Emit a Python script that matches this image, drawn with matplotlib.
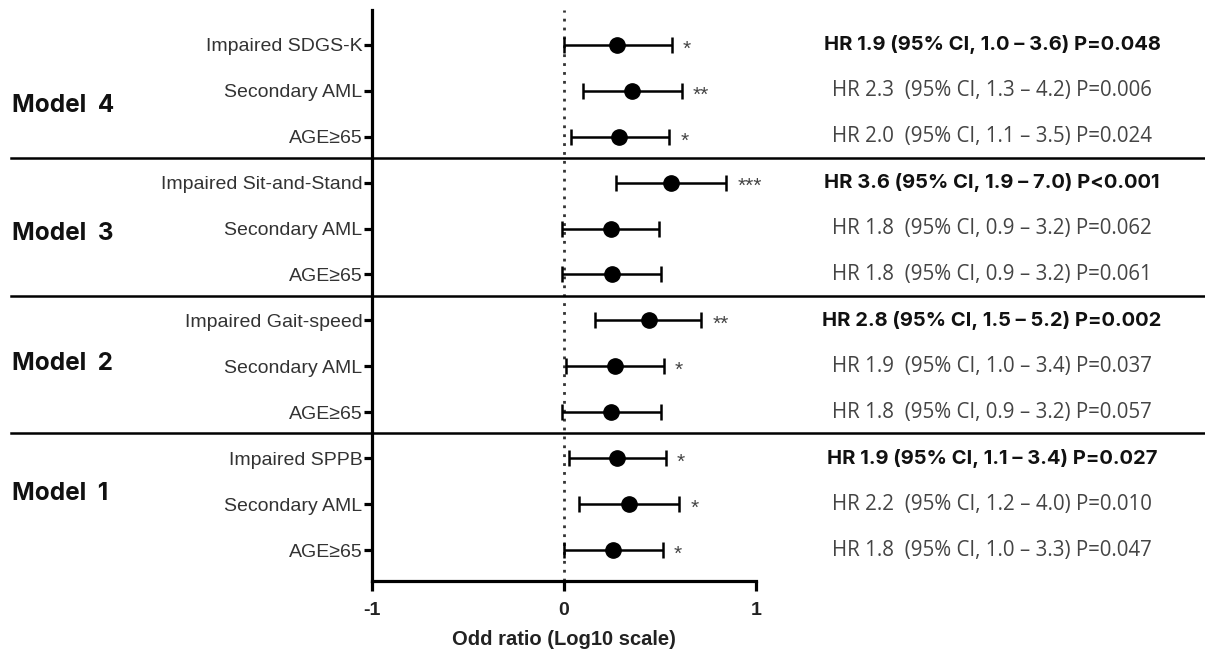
import numpy as np
import matplotlib
matplotlib.use("Agg")
import matplotlib.pyplot as plt
from matplotlib.transforms import blended_transform_factory, IdentityTransform

# rows top -> bottom
labels = ["Impaired SDGS-K", "Secondary AML", "AGE≥65",
          "Impaired Sit-and-Stand", "Secondary AML", "AGE≥65",
          "Impaired Gait-speed", "Secondary AML", "AGE≥65",
          "Impaired SPPB", "Secondary AML", "AGE≥65"]
# log10(HR) estimate and CI bounds
est = [0.277, 0.356, 0.286, 0.555, 0.243, 0.248, 0.444, 0.266, 0.243, 0.278, 0.339, 0.255]
lo = [0.000, 0.099, 0.035, 0.271, -0.012, -0.012, 0.161, 0.009, -0.009, 0.026, 0.078, 0.000]
hi = [0.560, 0.614, 0.548, 0.844, 0.495, 0.505, 0.715, 0.520, 0.503, 0.530, 0.600, 0.514]
stars = ["*", "**", "*", "***", "", "", "**", "*", "", "*", "*", "*"]
hr_text = ["HR 1.9 (95% CI, 1.0 – 3.6) P=0.048",
           "HR 2.3  (95% CI, 1.3 – 4.2) P=0.006",
           "HR 2.0  (95% CI, 1.1 – 3.5) P=0.024",
           "HR 3.6 (95% CI, 1.9 – 7.0) P<0.001",
           "HR 1.8  (95% CI, 0.9 – 3.2) P=0.062",
           "HR 1.8  (95% CI, 0.9 – 3.2) P=0.061",
           "HR 2.8 (95% CI, 1.5 – 5.2) P=0.002",
           "HR 1.9  (95% CI, 1.0 – 3.4) P=0.037",
           "HR 1.8  (95% CI, 0.9 – 3.2) P=0.057",
           "HR 1.9 (95% CI, 1.1 – 3.4) P=0.027",
           "HR 2.2  (95% CI, 1.2 – 4.0) P=0.010",
           "HR 1.8  (95% CI, 1.0 – 3.3) P=0.047"]
bold_rows = [0, 3, 6, 9]
models = ["Model 4", "Model 3", "Model 2", "Model 1"]
model_y = [1.31, 4.1, 6.93, 9.76]

W, H = 1205, 653
fig = plt.figure(figsize=(W / 100, H / 100), dpi=100)
ax = fig.add_axes([372 / W, 1 - 581 / H, 384 / W, 571 / H])

y = np.arange(len(labels))
est, lo, hi = np.array(est), np.array(lo), np.array(hi)

ax.axvline(0, color="#333333", lw=2, ls=(0, (1, 2.2)), zorder=1)
ax.errorbar(est, y, xerr=[est - lo, hi - est], fmt="o", color="black", ms=11,
            elinewidth=1.8, capsize=6, capthick=1.8, zorder=3)
for yi, h, s in zip(y, hi, stars):
    if s:
        ax.annotate(s, (h, yi), xytext=(8, -3), textcoords="offset points", ha="left", va="center",
                    fontsize=15, color="#444444", family="Liberation Sans")

# group separators spanning the whole width
for sep in [2.46, 5.46, 8.46]:
    ax.axhline(sep, xmin=-361 / 384, xmax=833 / 384, color="black", lw=1.8, clip_on=False)

ax.set_xlim(-1, 1)
ax.set_ylim(11.675, -0.76)
ax.set_yticks(y)
ax.set_yticklabels(labels, fontsize=14, color="#333333", family="Liberation Sans")
ax.set_xticks([-1, 0, 1])
ax.set_xticklabels(["-1", "0", "1"], fontsize=14, fontweight="bold", color="#222222",
                   family="Liberation Sans")
ax.set_xlabel("Odd ratio (Log10 scale)", fontsize=14.5, fontweight="bold", color="#222222",
              family="Liberation Sans", labelpad=8)
for side in ["top", "right"]:
    ax.spines[side].set_visible(False)
for side in ["left", "bottom"]:
    ax.spines[side].set_linewidth(2.3)
ax.tick_params(axis="y", length=6, width=2.3, pad=1)
ax.tick_params(axis="x", length=7, width=2.3, pad=8)

model_tr = blended_transform_factory(fig.transFigure, ax.transData)
for m, my in zip(models, model_y):
    fig.text(12 / W, my, m.replace(" ", "  "), fontsize=17.5, fontweight="bold", color="#111111",
             family="Inter", va="center", transform=model_tr)

hr_tr = blended_transform_factory(IdentityTransform(), ax.transData)
for i, t in enumerate(hr_text):
    b = i in bold_rows
    ax.text(992, i, t, ha="center", va="center", fontsize=14.5 if b else 14.8,
            fontweight="bold" if b else "normal", color="#111111" if b else "#444444",
            family="Inter" if b else "Open Sans", transform=hr_tr)

fig.savefig("out.png", dpi=100)
